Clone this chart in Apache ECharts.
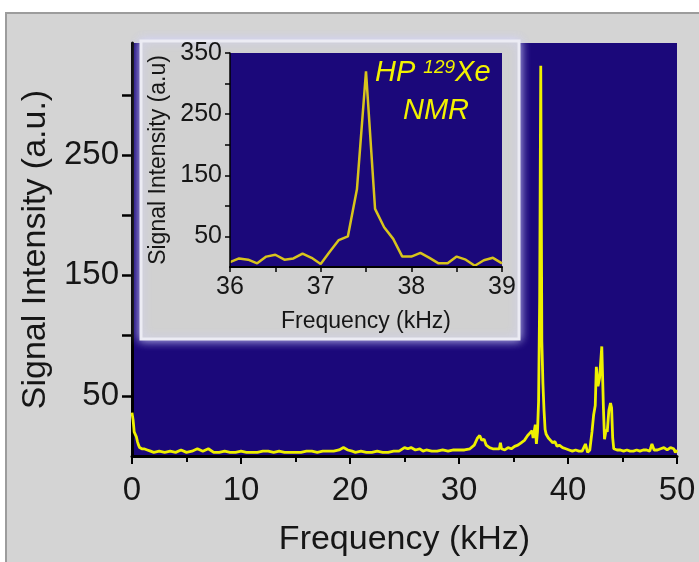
<!DOCTYPE html>
<html lang="en">
<head>
    <meta charset="UTF-8">
    <title>HP 129Xe NMR spectrum</title>
    <style>
      html, body { margin: 0; padding: 0; background: #ffffff; }
    </style>
</head>
<body>
<div style="width: 699px;height: 562px;" id="nmrChart"></div>
</body>
<script src="https://cdnjs.cloudflare.com/ajax/libs/echarts/6.0.0/echarts.min.js"></script>
<script type="text/javascript">
  // full spectrum, 0 - 50 kHz
  const mainKHz = [
    0.0, 0.1, 0.2, 0.3, 0.4, 0.5, 0.6, 0.7, 0.9, 1.1, 1.4, 1.7, 2.0, 2.5, 3.0, 3.5, 4.0, 4.5, 5.0, 5.5,
    6.0, 6.5, 7.0, 7.5, 8.0, 8.5, 9.0, 9.5, 10.0, 10.5, 11.0, 11.5, 12.0, 12.5, 13.0, 13.5, 14.0, 14.5,
    15.0, 15.5, 16.0, 16.5, 17.0, 17.5, 18.0, 18.5, 19.0, 19.4, 19.8, 20.2, 20.5, 21.0, 21.5, 22.0,
    22.5, 23.0, 23.5, 24.0, 24.5, 25.0, 25.3, 25.6, 26.0, 26.4, 26.7, 27.0, 27.5, 28.0, 28.5, 29.0,
    29.5, 30.0, 30.5, 31.0, 31.4, 31.7, 31.9, 32.1, 32.3, 32.5, 32.8, 33.1, 33.4, 33.7, 33.8, 33.9,
    34.2, 34.5, 34.8, 35.1, 35.4, 35.7, 36.0, 36.3, 36.5, 36.7, 36.8, 37.0, 37.1, 37.2, 37.3, 37.4,
    37.5, 37.6, 37.7, 37.8, 37.9, 38.0, 38.2, 38.4, 38.6, 38.8, 39.0, 39.2, 39.5, 39.8, 40.1, 40.4,
    40.7, 41.0, 41.3, 41.6, 41.8, 42.0, 42.2, 42.35, 42.5, 42.6, 42.75, 42.9, 43.1, 43.25, 43.35,
    43.5, 43.6, 43.75, 43.9, 44.0, 44.1, 44.2, 44.5, 44.8, 45.1, 45.4, 45.7, 46.0, 46.3, 46.6, 46.9,
    47.2, 47.5, 47.7, 47.9, 48.2, 48.5, 48.8, 49.1, 49.4, 49.7, 49.85, 50.0];
  const mainSignal = [
    36, 30, 20, 18, 16, 12, 9, 7, 6, 6, 5, 4, 3, 4, 3, 4, 3, 5, 3, 4,
    6, 4, 6, 3, 3, 4, 3, 3, 4, 3, 3, 3, 4, 4, 3, 4, 3, 3,
    3, 3, 4, 4, 3, 4, 4, 4, 5, 7, 5, 4, 3, 4, 3, 3,
    4, 3, 3, 4, 4, 7, 6, 7, 5, 6, 4, 5, 4, 4, 5, 4,
    5, 5, 5, 6, 9, 15, 17, 13, 14, 9, 7, 6, 6, 6, 11, 6,
    5, 7, 6, 8, 9, 11, 13, 17, 19, 21, 15, 26, 10, 20, 45, 130,
    324, 95, 60, 38, 22, 18, 15, 13, 11, 12, 8, 9, 7, 6, 5, 4,
    5, 4, 4, 10, 3, 5, 20, 34, 42, 74, 58, 65, 91, 40, 14,
    22, 20, 38, 44, 40, 15, 6, 5, 5, 4, 5, 4, 4, 5, 4, 5,
    5, 4, 10, 5, 5, 6, 7, 5, 7, 6, 3, 5];

  // zoom on the main line, 36 - 39 kHz
  const insetKHz = [
    36.0, 36.1, 36.2, 36.3, 36.4, 36.5, 36.6, 36.7, 36.8, 36.9, 37.0, 37.1, 37.2, 37.3, 37.4, 37.5,
    37.6, 37.7, 37.8, 37.9, 38.0, 38.1, 38.2, 38.3, 38.4, 38.5, 38.6, 38.7, 38.8, 38.9, 39.0];
  const insetSignal = [
    8, 14, 12, 6, 17, 20, 12, 14, 22, 15, 5, 25, 44, 50, 127, 320,
    95, 65, 46, 17, 17, 23, 15, 6, 6, 17, 12, 2, 11, 15, 6];

  const mainXTicks = [0, 10, 20, 30, 40, 50];
  const mainYLabels = [50, 150, 250];
  const mainYTicks = [50, 100, 150, 200, 250, 300];
  const insetXTicks = [36, 37, 38, 39];
  const insetYLabels = [50, 150, 250, 350];
  const insetYTicks = [50, 100, 150, 200, 250, 300, 350];

  const navy = '#1b087a';
  const ink = '#161616';
  const font = '"Liberation Sans", Arial, sans-serif';

  function zip(xs, ys) {
    const out = [];
    for (let i = 0; i < xs.length; i++) {
      out.push([xs[i], ys[i]]);
    }
    return out;
  }

  const option = {
    animation: false,
    textStyle: {fontFamily: font},
    grid: [
      {
        left: 132, top: 43, width: 545, height: 417,
        show: true, backgroundColor: navy, borderWidth: 0, z: 0,
      }, {
        left: 230, top: 53, width: 272, height: 214,
        show: true, backgroundColor: navy, borderWidth: 0, z: 3,
      }],
    graphic: [
      {
        type: 'rect', z: -10, silent: true,
        shape: {x: 6, y: 13, width: 700, height: 560},
        style: {fill: '#d4d4d4', stroke: '#9c9c9c', lineWidth: 2},
      }, {
        type: 'rect', z: 1, silent: true,
        shape: {x: 141, y: 41, width: 378, height: 298},
        style: {
          fill: '#d1d1d1', stroke: '#ececf4', lineWidth: 3,
          shadowBlur: 10, shadowColor: 'rgba(210,210,255,0.9)',
        },
      }, {
        type: 'text', z: 10, left: 375, top: 58,
        style: {
          text: '{a|HP }{s|129}{a|Xe}',
          rich: {
            a: {fontSize: 29, fontStyle: 'italic', fill: '#f2f200', fontFamily: font},
            s: {fontSize: 19, fontStyle: 'italic', fill: '#f2f200', fontFamily: font, verticalAlign: 'top'},
          },
        },
      }, {
        type: 'text', z: 10, left: 403, top: 96,
        style: {
          text: 'NMR', fontSize: 29, fontStyle: 'italic', fill: '#f2f200', fontFamily: font,
        },
      }],
    xAxis: [
      {
        type: 'value', gridIndex: 0, min: 0, max: 50, interval: 10,
        name: 'Frequency (kHz)', nameLocation: 'middle', nameGap: 67,
        nameTextStyle: {fontSize: 34, color: ink, fontFamily: font},
        axisLine: {lineStyle: {color: '#000', width: 3}},
        axisTick: {length: 8, lineStyle: {color: '#000', width: 2}},
        minorTick: {show: true, splitNumber: 2, length: 6, lineStyle: {color: '#000', width: 2}},
        axisLabel: {fontSize: 33, color: ink, margin: 18, customValues: mainXTicks},
        splitLine: {show: false},
      }, {
        type: 'value', gridIndex: 1, min: 36, max: 39, interval: 1, z: 6,
        name: 'Frequency (kHz)', nameLocation: 'middle', nameGap: 43,
        nameTextStyle: {fontSize: 23, color: ink, fontFamily: font},
        axisLine: {lineStyle: {color: '#000', width: 2}},
        axisTick: {length: 5, lineStyle: {color: '#000', width: 1.5}},
        minorTick: {show: true, splitNumber: 2, length: 5, lineStyle: {color: '#000', width: 1.5}},
        axisLabel: {fontSize: 25, color: ink, margin: 8, customValues: insetXTicks},
        splitLine: {show: false},
      }],
    yAxis: [
      {
        type: 'value', gridIndex: 0, min: 0, max: 343,
        name: 'Signal Intensity (a.u.)', nameLocation: 'middle', nameGap: 78,
        nameTextStyle: {fontSize: 34, color: ink, fontFamily: font},
        axisLine: {show: true, lineStyle: {color: '#000', width: 3}},
        axisTick: {show: true, length: 10, lineStyle: {color: '#000', width: 2.5}, customValues: mainYTicks},
        axisLabel: {fontSize: 33, color: ink, margin: 13, customValues: mainYLabels},
        splitLine: {show: false},
      }, {
        type: 'value', gridIndex: 1, min: 0, max: 350, z: 6,
        name: 'Signal Intensity (a.u)', nameLocation: 'middle', nameGap: 60,
        nameTextStyle: {fontSize: 23, color: ink, fontFamily: font},
        axisLine: {show: true, lineStyle: {color: '#000', width: 1.5}},
        axisTick: {show: true, length: 5, lineStyle: {color: '#000', width: 1.5}, customValues: insetYTicks},
        axisLabel: {fontSize: 25, color: ink, margin: 8, customValues: insetYLabels},
        splitLine: {show: false},
      }],
    series: [
      {
        name: 'spectrum', type: 'line', xAxisIndex: 0, yAxisIndex: 0,
        data: zip(mainKHz, mainSignal), showSymbol: false, z: 2,
        lineStyle: {color: '#eef000', width: 2.8},
      }, {
        name: 'inset', type: 'line', xAxisIndex: 1, yAxisIndex: 1,
        data: zip(insetKHz, insetSignal), showSymbol: false, z: 5,
        lineStyle: {color: '#d8c41c', width: 2.5},
      }],
  };

  let instance = echarts.init(document.getElementById('nmrChart'));
  instance.setOption(option);
</script>
</html>
